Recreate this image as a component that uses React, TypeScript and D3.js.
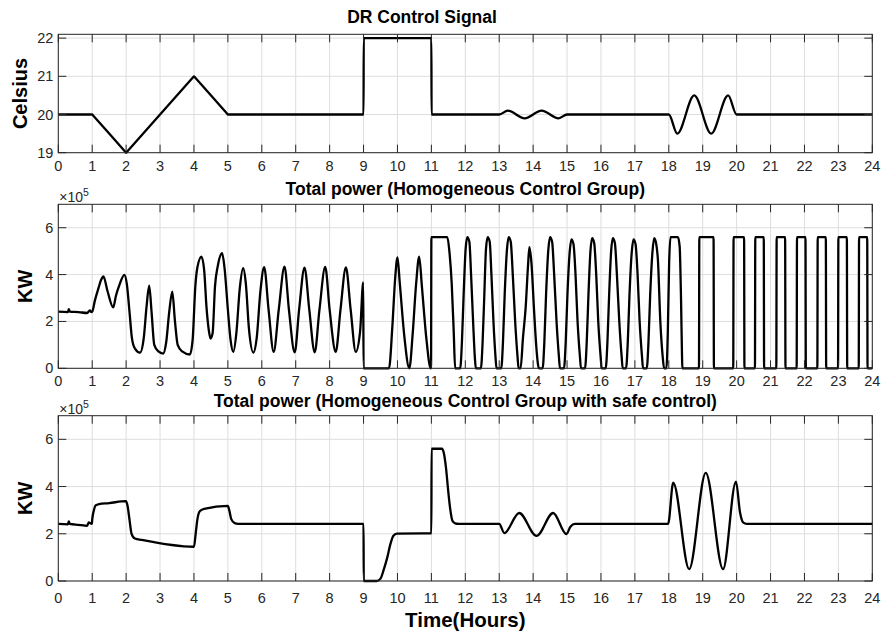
import React from 'react';
import * as d3 from 'd3';

// Hour ticks shared by all three panels
const hourTicks = [0, 1, 2, 3, 4, 5, 6, 7, 8, 9, 10, 11, 12, 13, 14, 15, 16, 17, 18, 19, 20, 21, 22, 23, 24];
const celsiusTicks = [19, 20, 21, 22];
const powerTicks = [0, 2, 4, 6];
const powerExponent = 5;

const titles = [
  'DR Control Signal',
  'Total power (Homogeneous Control Group)',
  'Total power (Homogeneous Control Group with safe control)',
];

// DR control signal: set-point temperature [hour, °C]
const drSignal: [number, number][] = [
  [0, 20], [1, 20], [1.02, 19.98], [1.98, 19.02], [2, 19], [2.02, 19.02], [3.98, 20.98], [4, 21],
  [4.02, 20.98], [4.98, 20.02], [5, 20], [9, 20], [9.005, 22], [11, 22], [11.005, 20], [13, 20],
  [13.25, 20.1], [13.75, 19.9], [14.25, 20.1], [14.75, 19.9], [15, 20], [18, 20], [18.25, 19.5],
  [18.75, 20.5], [19.25, 19.5], [19.75, 20.5], [20, 20], [24, 20],
];

// Total power of the homogeneous group [hour, x10^5 KW]
const homogeneousPower: [number, number][] = [
  [0, 2.42], [0.28, 2.4], [0.31, 2.52], [0.34, 2.42], [0.6, 2.4], [0.85, 2.36], [0.93, 2.47], [0.97, 2.4], [1.0, 2.42],
  [1.08, 2.9], [1.18, 3.4], [1.27, 3.8], [1.33, 3.92], [1.45, 3.3], [1.62, 2.6], [1.7, 3.1], [1.8, 3.55], [1.95, 3.99],
  [2.02, 3.6], [2.1, 2.4], [2.17, 1.3], [2.26, 0.84], [2.41, 0.67], [2.52, 1.3], [2.6, 2.6], [2.68, 3.53], [2.75, 2.4],
  [2.83, 1.0], [2.95, 0.72], [3.09, 0.63], [3.18, 1.1], [3.27, 2.4], [3.36, 3.27], [3.44, 2.0], [3.52, 1.0], [3.65, 0.72],
  [3.88, 0.59], [3.96, 1.2], [4.04, 3.5], [4.1, 4.3], [4.22, 4.77], [4.3, 4.2], [4.37, 2.6], [4.44, 1.6], [4.49, 1.27],
  [4.55, 1.5], [4.62, 3.5], [4.7, 4.35], [4.83, 4.91], [4.9, 4.3], [5.0, 2.5], [5.08, 1.2], [5.16, 0.7], [5.25, 1.5],
  [5.35, 3.4], [5.45, 4.27], [5.53, 3.6], [5.62, 1.7], [5.75, 0.67], [5.85, 1.3], [5.96, 3.3], [6.07, 4.32], [6.2, 2.5],
  [6.35, 0.7], [6.5, 2.5], [6.67, 4.34], [6.8, 2.5], [6.97, 0.68], [7.1, 2.5], [7.26, 4.3], [7.4, 2.5], [7.56, 0.68],
  [7.7, 2.5], [7.87, 4.33], [8.0, 2.5], [8.18, 0.7], [8.32, 2.5], [8.48, 4.31], [8.62, 2.5], [8.77, 0.7], [8.9, 1.6],
  [8.99, 3.67], [9.0, 0], [9.75, 0], [9.85, 1.8], [9.93, 3.8], [10.0, 4.73], [10.07, 3.6], [10.2, 1.4], [10.35, 0],
  [10.45, 1.5], [10.55, 3.6], [10.64, 4.77], [10.72, 3.5], [10.85, 1.3], [10.98, 0], [10.99, 0], [11.0, 5.6], [11.47, 5.6],
  [11.53, 5.0], [11.6, 3.6], [11.66, 1.5], [11.7, 0],
  [11.85, 0], [11.9, 1.1], [11.95, 3.1], [12.01, 5.1], [12.06, 5.6], [12.12, 5.4], [12.17, 4.0], [12.23, 2.0], [12.28, 0.5], [12.31, 0],
  [12.46, 0], [12.51, 1.1], [12.56, 3.1], [12.61, 5.1], [12.66, 5.6], [12.72, 5.4], [12.77, 4.0], [12.83, 2.0], [12.89, 0.5], [12.92, 0],
  [13.06, 0], [13.11, 1.1], [13.16, 3.1], [13.23, 5.1], [13.28, 5.6], [13.34, 5.4], [13.4, 4.0], [13.47, 2.0], [13.54, 0.5], [13.57, 0],
  [13.63, 0], [13.7, 1.3], [13.78, 2.6], [13.85, 4.4], [13.89, 5.17], [13.95, 4.5], [14.03, 2.4], [14.1, 0.8], [14.17, 0],
  [14.28, 0], [14.33, 1.1], [14.38, 3.1], [14.45, 5.1], [14.5, 5.6], [14.56, 5.4], [14.62, 4.0], [14.69, 2.0], [14.76, 0.5], [14.79, 0],
  [14.91, 0], [14.96, 1.1], [15.01, 3.1], [15.08, 5.0], [15.13, 5.5], [15.19, 5.3], [15.25, 4.0], [15.31, 2.0], [15.38, 0.5], [15.41, 0],
  [15.53, 0], [15.58, 1.1], [15.63, 3.1], [15.69, 5.0], [15.74, 5.55], [15.8, 5.35], [15.86, 4.0], [15.92, 2.0], [15.99, 0.5], [16.02, 0],
  [16.14, 0], [16.19, 1.1], [16.24, 3.1], [16.3, 5.0], [16.35, 5.55], [16.41, 5.35], [16.47, 4.0], [16.54, 2.0], [16.61, 0.5], [16.64, 0],
  [16.74, 0], [16.79, 1.1], [16.84, 3.1], [16.91, 5.0], [16.96, 5.5], [17.02, 5.3], [17.08, 4.0], [17.14, 2.0], [17.21, 0.5], [17.24, 0],
  [17.35, 0], [17.4, 1.1], [17.45, 3.1], [17.52, 5.0], [17.57, 5.55], [17.63, 5.3], [17.68, 4.6], [17.75, 2.0], [17.82, 0.5], [17.86, 0],
  [17.93, 0], [17.97, 1.5], [18.01, 4.5], [18.05, 5.6], [18.27, 5.6], [18.32, 5.2], [18.36, 3.0], [18.39, 0.5], [18.4, 0],
  [18.89, 0], [18.9, 5.6], [19.32, 5.6], [19.33, 0], [19.9, 0], [19.91, 5.6], [20.22, 5.6], [20.23, 0],
  [20.54, 0], [20.55, 5.6], [20.8, 5.6], [20.81, 0], [21.17, 0], [21.18, 5.6], [21.43, 5.6], [21.44, 0],
  [21.77, 0], [21.78, 5.6], [22.03, 5.6], [22.04, 0], [22.38, 0], [22.39, 5.6], [22.63, 5.6], [22.64, 0],
  [22.99, 0], [23.0, 5.6], [23.25, 5.6], [23.26, 0], [23.6, 0], [23.61, 5.6], [23.85, 5.6], [23.86, 0], [24, 0],
];

// Total power with safe control [hour, x10^5 KW]
const safeControlPower: [number, number][] = [
  [0, 2.42], [0.28, 2.4], [0.31, 2.52], [0.34, 2.42], [0.6, 2.38], [0.85, 2.34], [0.9, 2.48], [0.95, 2.44], [0.99, 2.42],
  [1.0, 2.6], [1.05, 3.0], [1.1, 3.2], [1.2, 3.26], [1.5, 3.3], [1.99, 3.38], [2.04, 3.2], [2.09, 2.7], [2.16, 2.0],
  [2.26, 1.8], [2.46, 1.74], [4.0, 1.45], [4.05, 2.0], [4.1, 2.6], [4.17, 2.95], [4.3, 3.05], [5.0, 3.18], [5.04, 3.0],
  [5.1, 2.62], [5.2, 2.45], [5.3, 2.42], [9.0, 2.42], [9.005, 0], [9.39, 0], [9.5, 0.1], [9.6, 0.5], [9.7, 1.0],
  [9.78, 1.5], [9.88, 1.92], [9.98, 2.01], [11.0, 2.02], [11.005, 5.6], [11.31, 5.6], [11.37, 5.4], [11.43, 4.8],
  [11.5, 3.76], [11.56, 3.0], [11.62, 2.55], [11.7, 2.44], [11.8, 2.42], [13.0, 2.42], [13.15, 2.03], [13.59, 2.88],
  [14.1, 1.91], [14.59, 2.88], [14.98, 1.99], [15.1, 2.3], [15.23, 2.42], [17.98, 2.42], [18.13, 4.16], [18.6, 0.5],
  [19.09, 4.58], [19.6, 0.5], [19.98, 4.21], [20.1, 2.9], [20.19, 2.48], [20.3, 2.42], [24, 2.42],
];

const FONT = '"Liberation Sans", Arial, Helvetica, sans-serif';
const AXIS_COLOR = '#262626';
const GRID_COLOR = '#dedede';
const X0 = 58.3;
const X1 = 872.3;
const TICK_LEN = 8;

type PanelSpec = {
  title: string;
  titleX: number;
  titleBaseline: number;
  top: number;
  bottom: number;
  domain: [number, number];
  yTicks: number[];
  yLabel: string;
  yLabelX: number;
  data: [number, number][];
  exponent: boolean;
  xLabelOffset: number;
};

function Panel({ spec, x }: { spec: PanelSpec; x: d3.ScaleLinear<number, number> }) {
  const y = d3.scaleLinear().domain(spec.domain).range([spec.bottom, spec.top]);
  const line = d3
    .line<[number, number]>()
    .x((d) => x(d[0]))
    .y((d) => y(d[1]))
    .curve(d3.curveMonotoneX);
  const midY = (spec.top + spec.bottom) / 2;
  return (
    <g>
      {/* grid */}
      {hourTicks.map((h) => (
        <line key={'gx' + h} x1={x(h)} x2={x(h)} y1={spec.top} y2={spec.bottom} stroke={GRID_COLOR} strokeWidth={1} />
      ))}
      {spec.yTicks.map((v) => (
        <line key={'gy' + v} x1={X0} x2={X1} y1={y(v)} y2={y(v)} stroke={GRID_COLOR} strokeWidth={1} />
      ))}
      {/* data */}
      <path d={line(spec.data) || ''} fill="none" stroke="#000" strokeWidth={2.3} strokeLinejoin="round" />
      {/* box */}
      <rect x={X0} y={spec.top} width={X1 - X0} height={spec.bottom - spec.top} fill="none" stroke={AXIS_COLOR} strokeWidth={1} />
      {/* ticks */}
      {hourTicks.map((h) => (
        <g key={'tx' + h}>
          <line x1={x(h)} x2={x(h)} y1={spec.bottom} y2={spec.bottom - TICK_LEN} stroke={AXIS_COLOR} />
          <line x1={x(h)} x2={x(h)} y1={spec.top} y2={spec.top + TICK_LEN} stroke={AXIS_COLOR} />
          <text
            x={x(h)}
            y={spec.bottom + spec.xLabelOffset}
            textAnchor="middle"
            dominantBaseline="central"
            fontFamily={FONT}
            fontSize={14.5}
            fill={AXIS_COLOR}
          >
            {h}
          </text>
        </g>
      ))}
      {spec.yTicks.map((v) => (
        <g key={'ty' + v}>
          <line x1={X0} x2={X0 + TICK_LEN} y1={y(v)} y2={y(v)} stroke={AXIS_COLOR} />
          <line x1={X1} x2={X1 - TICK_LEN} y1={y(v)} y2={y(v)} stroke={AXIS_COLOR} />
          <text
            x={X0 - 5}
            y={y(v)}
            textAnchor="end"
            dominantBaseline="central"
            fontFamily={FONT}
            fontSize={14.5}
            fill={AXIS_COLOR}
          >
            {v}
          </text>
        </g>
      ))}
      {spec.exponent && (
        <text x={X0 + 1} y={spec.top - 2} fontFamily={FONT} fontSize={14} fill={AXIS_COLOR}>
          {'\u00d710'}
          <tspan fontSize={10.5} dy={-6}>
            {powerExponent}
          </tspan>
        </text>
      )}
      <text
        x={spec.titleX}
        y={spec.titleBaseline}
        textAnchor="middle"
        fontFamily={FONT}
        fontWeight="bold"
        fontSize={17.5}
        fill="#000"
      >
        {spec.title}
      </text>
      <text
        transform={`translate(${spec.yLabelX},${midY}) rotate(-90)`}
        textAnchor="middle"
        fontFamily={FONT}
        fontWeight="bold"
        fontSize={20}
        fill="#000"
      >
        {spec.yLabel}
      </text>
    </g>
  );
}

export default function App() {
  const x = d3.scaleLinear().domain([0, 24]).range([X0, X1]);
  const panels: PanelSpec[] = [
    {
      title: titles[0], titleX: 422, titleBaseline: 23.3, top: 34.3, bottom: 152.7, domain: [19, 22.1],
      yTicks: celsiusTicks, yLabel: 'Celsius', yLabelX: 27, data: drSignal, exponent: false, xLabelOffset: 13.3,
    },
    {
      title: titles[1], titleX: (X0 + X1) / 2, titleBaseline: 195, top: 204.3, bottom: 368.3, domain: [0, 7],
      yTicks: powerTicks, yLabel: 'KW', yLabelX: 32, data: homogeneousPower, exponent: true, xLabelOffset: 12.5,
    },
    {
      title: titles[2], titleX: (X0 + X1) / 2, titleBaseline: 406.7, top: 415.7, bottom: 581, domain: [0, 7],
      yTicks: powerTicks, yLabel: 'KW', yLabelX: 32, data: safeControlPower, exponent: true, xLabelOffset: 16.5,
    },
  ];
  return (
    <svg
      width={881}
      height={635}
      viewBox="0 0 881 635"
      style={{ position: 'absolute', left: 0, top: 0, display: 'block', background: '#fff' }}
    >
      <rect x={0} y={0} width={881} height={635} fill="#fff" />
      {panels.map((p, i) => (
        <Panel key={i} spec={p} x={x} />
      ))}
      <text
        x={(X0 + X1) / 2}
        y={627}
        textAnchor="middle"
        fontFamily={FONT}
        fontWeight="bold"
        fontSize={20.5}
        fill="#000"
      >
        Time(Hours)
      </text>
    </svg>
  );
}
